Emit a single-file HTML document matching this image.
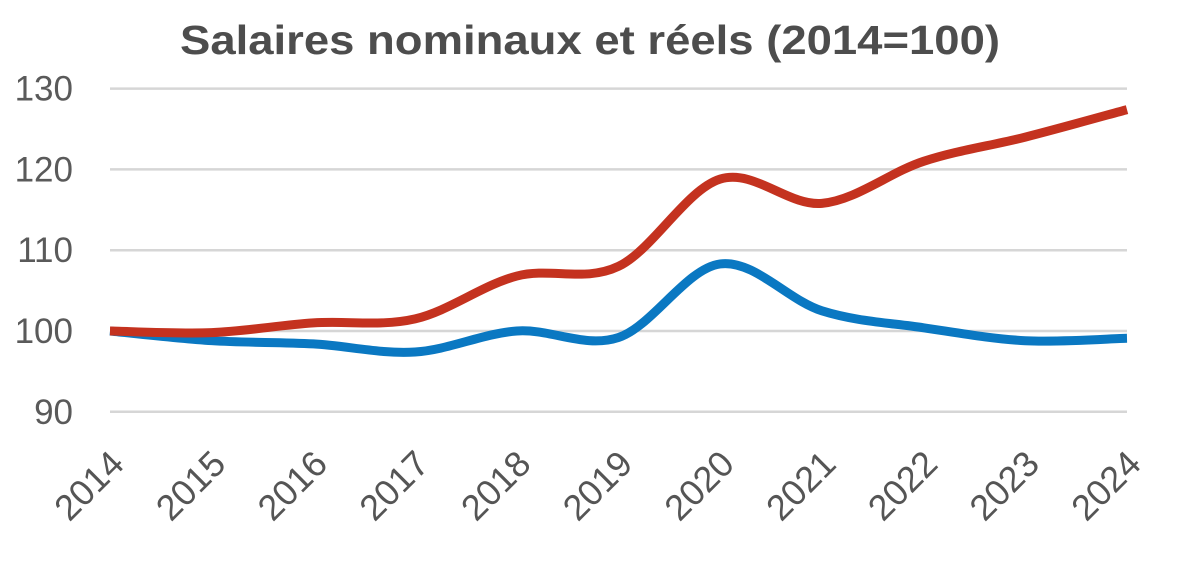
<!DOCTYPE html>
<html><head><meta charset="utf-8"><style>
html,body{margin:0;padding:0;background:#fff;}
svg{display:block;font-family:"Liberation Sans",sans-serif;}
</style></head><body>
<svg id="chart" width="1185" height="577">
<text x="590" y="54" text-anchor="middle" font-size="41" font-weight="bold" fill="#4d4d4d" textLength="820" lengthAdjust="spacingAndGlyphs">Salaires nominaux et réels (2014=100)</text>
<g id="grid"></g><g id="yt"></g><g id="xt"></g><g id="lines"></g>
</svg>
<script>
const years=["2014","2015","2016","2017","2018","2019","2020","2021","2022","2023","2024"];
const nominal=[100,99.8,101,101.5,106.8,108,118.8,115.8,121,124,127.4];
const real=[100,98.8,98.4,97.4,100,99.2,108.3,102.5,100.4,98.8,99.1];
const yTicks=[90,100,110,120,130];
const NS="http://www.w3.org/2000/svg";
const x0=110,x1=1127,yBase=331,pxPer=8.08;
const X=i=>x0+i*(x1-x0)/(years.length-1);
const Y=v=>yBase-(v-100)*pxPer;
function mk(t,a,p){const e=document.createElementNS(NS,t);for(const k in a)e.setAttribute(k,a[k]);p.appendChild(e);return e;}
const g=document.getElementById('grid'),yt=document.getElementById('yt'),xt=document.getElementById('xt'),L=document.getElementById('lines');
yTicks.forEach(v=>{
 const l=mk('line',{x1:x0,x2:x1,y1:Y(v),y2:Y(v),stroke:'#d6d6d6','stroke-width':2.5},g);
 
 
 const t=mk('text',{x:73,y:Y(v)+12,'text-anchor':'end','font-size':35,fill:'#5a5a5a'},yt);
 t.textContent=v;
 
 
});
years.forEach((yr,i)=>{
 const ax=X(i)+16,ay=466;
 const t=mk('text',{x:ax,y:ay,'text-anchor':'end','font-size':36,fill:'#555',transform:`rotate(-45 ${ax} ${ay})`},xt);
 t.textContent=yr;
 
 
});
function path(vals){
 const p=vals.map((v,i)=>[X(i),Y(v)]);
 let d=`M${p[0][0]},${p[0][1]}`;
 for(let i=0;i<p.length-1;i++){
  const a=p[Math.max(i-1,0)],b=p[i],c=p[i+1],e=p[Math.min(i+2,p.length-1)];
  d+=` C${b[0]+(c[0]-a[0])/6},${b[1]+(c[1]-a[1])/6} ${c[0]-(e[0]-b[0])/6},${c[1]-(e[1]-b[1])/6} ${c[0]},${c[1]}`;
 }
 return d;
}
const rl=mk('path',{d:path(real),fill:'none',stroke:'#0a78c2','stroke-width':9,'stroke-linecap':'butt'},L);


const nl=mk('path',{d:path(nominal),fill:'none',stroke:'#c4321f','stroke-width':9,'stroke-linecap':'butt'},L);


</script>
</body></html>
